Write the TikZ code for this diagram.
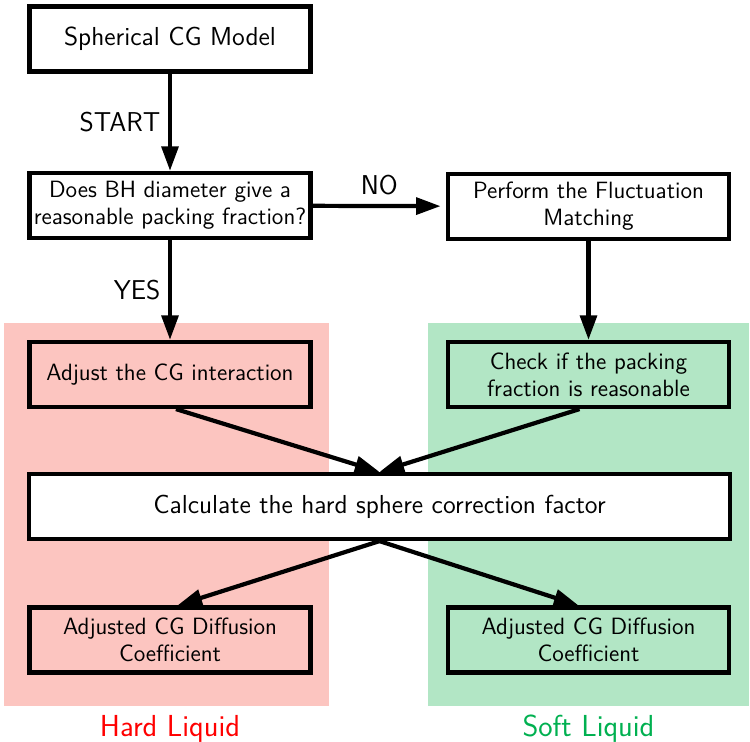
\documentclass[tikz,border=0pt]{standalone}
\usepackage{tikz}
\usetikzlibrary{arrows.meta,positioning}
\definecolor{hardbg}{RGB}{252,197,192}
\definecolor{softbg}{RGB}{178,230,197}
\definecolor{hardtxt}{RGB}{255,0,0}
\definecolor{softtxt}{RGB}{0,176,80}

\begin{document}
\begin{tikzpicture}[line width=2.4pt, font=\sffamily\fontsize{13.4}{15.5}\selectfont,
    box/.style={draw, rectangle, align=center, minimum width=5.62cm, minimum height=1.3cm, inner sep=2pt},
    big/.style={font=\sffamily\fontsize{14.8}{17}\selectfont},
    lbl/.style={font=\sffamily\fontsize{15.5}{18}\selectfont},
    arr/.style={-{Triangle[length=14pt,width=9.5pt]}}]
      \useasboundingbox (0,0) rectangle (15,14.84);
      % background regions
      \fill[hardbg] (0.08,0.72) rectangle (6.58,8.38);
      \fill[softbg] (8.56,0.72) rectangle (14.98,8.38);
      \node[hardtxt, font=\sffamily\fontsize{17.3}{20}\selectfont] (hard) at (3.4,0.26) {Hard Liquid};
      \node[softtxt, font=\sffamily\fontsize{17.3}{20}\selectfont] (soft) at (11.77,0.26) {Soft Liquid};
      % boxes
      \node[box, big, fill=white] (model) at (3.4,14.06) {Spherical CG Model};
      \node[box, fill=white] (bh) at (3.4,10.73) {Does BH diameter give a\\reasonable packing fraction?};
      \node[box, fill=white] (fluct) at (11.77,10.71) {Perform the Fluctuation\\Matching};
      \node[box] (adjust) at (3.4,7.35) {Adjust the CG interaction};
      \node[box] (check) at (11.77,7.35) {Check if the packing\\fraction is reasonable};
      \node[box, big, fill=white, minimum width=14.02cm] (calc) at (7.59,4.71) {Calculate the hard sphere correction factor};
      \node[box] (diffh) at (3.4,2.04) {Adjusted CG Diffusion\\Coefficient};
      \node[box] (diffs) at (11.77,2.04) {Adjusted CG Diffusion\\Coefficient};
      % arrows
      \draw[arr] (model) -- node[left=1pt, lbl] {START} (bh);
      \draw[arr, shorten >=3pt] (bh) -- node[above=2pt, lbl] {NO} (fluct);
      \draw[arr] (bh) -- node[left=1pt, lbl] {YES} (adjust);
      \draw[arr] (fluct) -- (check);
      \draw[arr] ([xshift=0.12cm]adjust.south) -- (calc.north);
      \draw[arr] ([xshift=-0.18cm]check.south) -- (calc.north);
      \draw[arr] (calc.south) -- ([xshift=0.15cm]diffh.north);
      \draw[arr] (calc.south) -- ([xshift=-0.2cm]diffs.north);
    \end{tikzpicture}
\end{document}
